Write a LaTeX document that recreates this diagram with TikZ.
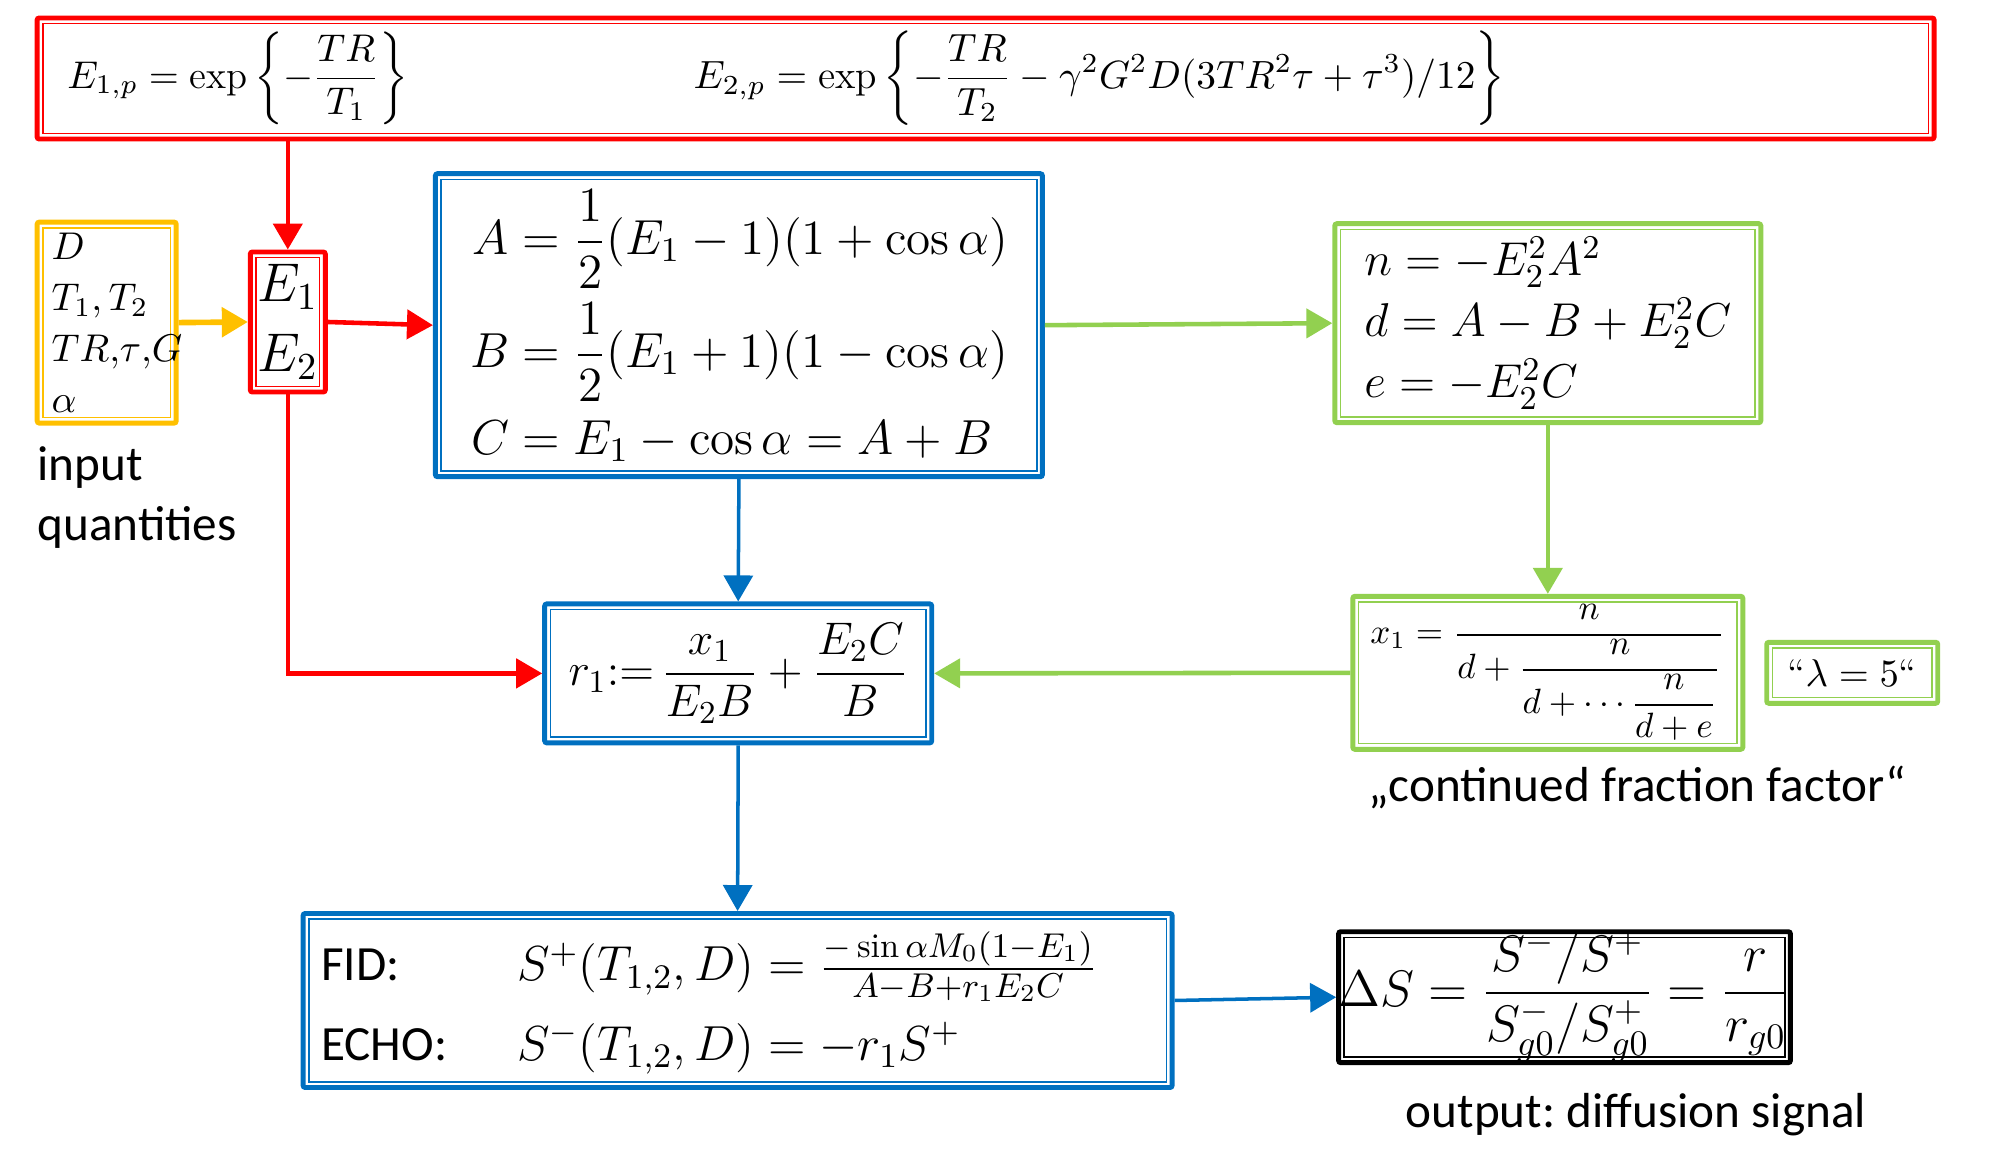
\RequirePackage{fix-cm}
\documentclass[tikz,border=0pt]{standalone}
\usepackage{amsmath,amssymb}
\usepackage{fontspec}
\newfontfamily\labelfont{Carlito}
\usepackage{xcolor}
\usetikzlibrary{arrows.meta, positioning}

\definecolor{boxred}{HTML}{FF0000}
\definecolor{boxyellow}{HTML}{FFC000}
\definecolor{boxblue}{HTML}{0070C0}
\definecolor{boxgreen}{HTML}{92D050}

\begin{document}
\begin{tikzpicture}[
  dframe/.style={rectangle, draw=#1, line width=1.4pt, rounded corners=0.6pt,
    inner sep=0pt,
    path picture={\draw[#1, line width=0.45pt, sharp corners]
      ([shift={(1.6pt,1.6pt)}]path picture bounding box.south west) rectangle
      ([shift={(-1.6pt,-1.6pt)}]path picture bounding box.north east);}},
  arrow/.style={-{Triangle[length=2.6mm, width=2.9mm]}, line width=1.3pt},
  caption/.style={font=\labelfont\fontsize{14}{17.3}\selectfont, inner sep=0pt}
]
  \useasboundingbox (0,0) rectangle (20.15,11.72);

  % exponential decay factors
  \node[dframe=boxred, minimum width=18.97cm, minimum height=1.21cm] (expbox) at (9.856,10.935) {};
  \node[anchor=west, inner sep=0pt, font=\fontsize{11}{13}\selectfont] (e1p) at (0.667,10.935)
    {$\displaystyle E_{1,p}=\exp\left\{-\frac{TR}{T_1}\right\}$};
  \node[anchor=west, inner sep=0pt, font=\fontsize{11.2}{13}\selectfont] (e2p) at (6.93,10.935)
    {$\displaystyle E_{2,p}=\exp\left\{-\frac{TR}{T_2}-\gamma^2G^2D(3TR^2\tau+\tau^3)/12\right\}$};

  % inputs and first stage
  \node[dframe=boxyellow, minimum width=1.39cm, minimum height=2.01cm, align=left, text width=1.1cm,
    font=\fontsize{11}{14.5}\selectfont] (inputs) at (1.067,8.494)
    {$D$\\ $T_1, T_2$\\ $TR{,}\tau{,}G$\\ $\alpha$};
  \node[caption, align=left, anchor=north west] (inlabel) at ([xshift=0.02cm, yshift=-0.2cm]inputs.south west)
    {input\\quantities};
  \node[dframe=boxred, minimum width=0.75cm, minimum height=1.40cm, align=center,
    font=\fontsize{15.5}{20}\selectfont] (rates) at (2.878,8.500) {$E_1$\\ $E_2$};
  \node[dframe=boxblue, minimum width=6.07cm, minimum height=3.03cm,
    font=\fontsize{14}{16}\selectfont] (coeffs) at (7.389,8.468)
    {$\begin{aligned}
      A&=\rule{0pt}{21.5pt}\frac{1}{2}(E_1-1)(1+\cos\alpha)\\
      B&=\frac{1}{2}(E_1+1)(1-\cos\alpha)\\
      C&=E_1-\cos\alpha=A+B
    \end{aligned}$};

  % continued fraction
  \node[dframe=boxgreen, minimum width=4.26cm, minimum height=1.99cm, align=left,
    font=\fontsize{13.5}{17.3}\selectfont] (cfparams) at (15.478,8.488)
    {$n=-E_2^2A^2$\\ $d=A-B+E_2^2C$\\ $e=-E_2^2C$};
  \node[dframe=boxgreen, minimum width=3.90cm, minimum height=1.53cm,
    font=\fontsize{10}{12}\selectfont] (contfrac) at (15.478,4.992)
    {$x_1=\dfrac{n}{d+\dfrac{n}{d+\cdots\dfrac{n}{d+e}}}$};
  \node[dframe=boxgreen, minimum width=1.71cm, minimum height=0.61cm, right=0.19cm of contfrac,
    font=\fontsize{11}{13}\selectfont] (lambda) {\textquotedblleft$\lambda=5$\textquotedblleft};
  \node[caption, anchor=base] (cflabel) at (16.37,3.70) {„continued fraction factor“};

  % signals
  \node[dframe=boxblue, minimum width=3.87cm, minimum height=1.39cm,
    font=\fontsize{13}{15}\selectfont] (ratio) at (7.382,4.986)
    {$r_1{:=}\,\dfrac{x_1}{E_2B}+\dfrac{E_2C}{B}$};
  \node[dframe=boxblue, minimum width=8.69cm, minimum height=1.74cm, inner xsep=0.18cm,
    text width=8.33cm, align=left, font=\fontsize{14}{17}\selectfont] (signal) at (7.376,1.715)
    {\begin{tabular}{@{}l@{\hspace{0.7cm}}l@{}}
      {\labelfont FID:}\rule{0pt}{16.5pt} & $S^+(T_{1,2},D)=\frac{-\sin\alpha M_0(1-E_1)}{A-B+r_1E_2C}$\\[5.5pt]
      {\labelfont ECHO:} & $S^-(T_{1,2},D)=-r_1S^+$
    \end{tabular}};
  \node[dframe=black, minimum width=4.49cm, minimum height=1.29cm,
    font=\fontsize{14.6}{17}\selectfont] (diffusion) at (15.645,1.748)
    {$\Delta S=\dfrac{S^-/S^+}{S^-_{g0}/S^+_{g0}}=\dfrac{r}{r_{g0}}$};
  \node[caption, anchor=base] (outlabel) at (16.36,0.45) {output:\ diffusion signal};

  \draw[arrow, boxred] (expbox.south -| rates.north) -- (rates.north);
  \draw[arrow, boxyellow, line width=1.6pt] (inputs.east) -- (rates.west);
  \draw[arrow, boxred] (rates.east) -- (coeffs.west);
  \draw[arrow, boxred] (rates.south) |- (ratio.west);
  \draw[arrow, boxgreen] (coeffs.east) -- (cfparams.west);
  \draw[arrow, boxblue, line width=1pt] (coeffs.south) -- (ratio.north);
  \draw[arrow, boxgreen] (cfparams.south) -- (contfrac.north);
  \draw[arrow, boxgreen] (contfrac.west) -- (ratio.east);
  \draw[arrow, boxblue, line width=1pt] (ratio.south) -- (signal.north);
  \draw[arrow, boxblue, line width=1pt] (signal.east) -- (diffusion.west);
\end{tikzpicture}
\end{document}
